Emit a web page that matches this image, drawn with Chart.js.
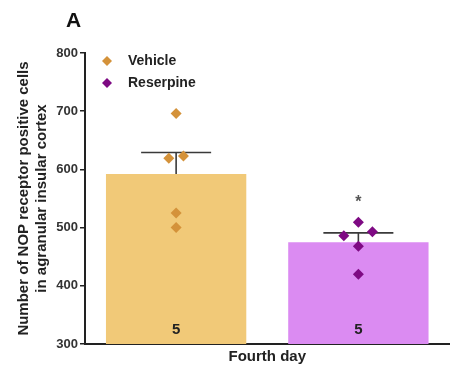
<!DOCTYPE html>
<html lang="en">
<head>
    <meta charset="UTF-8">
    <script src="https://cdn.jsdelivr.net/npm/chart.js"></script>
    <title>NOP receptor positive cells</title>
    <style>
        html, body { margin: 0; padding: 0; background: #fff; }
        #wrap { width: 455px; height: 373px; }
    </style>
</head>
<body>
    <div id="wrap"><canvas id="nopChart" width="455" height="373"></canvas></div>
    <script>
        // groups, means, SEM and individual animals
        var groups = ['Vehicle', 'Reserpine'];
        var means = [592, 475];
        var sems = [37, 16];
        var counts = [5, 5];
        var vehiclePts = [696, 619, 623, 525, 500];
        var reserpinePts = [509, 486, 493, 468, 420];
        var vehicleJitter = [0, -0.04, 0.04, 0, 0];
        var reserpineJitter = [0, -0.08, 0.077, 0, 0];
        var yTicks = [300, 400, 500, 600, 700, 800];
        var signif = ['', '*'];

        var barColors = ['#F1C978', '#DB8BF2'];
        var dotColors = ['#D4923A', '#7E0A83'];

        Chart.defaults.font.family = "'Liberation Sans', Arial, sans-serif";

        function toPoints(vals, centre, jitter){
            var out = [];
            for (var i = 0; i < vals.length; i++) {
                out.push({x: centre + jitter[i], y: vals[i]});
            }
            return out;
        }

        // error bars (upper whisker only), n labels, asterisk, panel letter, legend
        var extras = {
            id: 'extras',
            beforeDatasetDraw: function(chart, args){
                if (args.index !== 1) return;
                var ctx = chart.ctx;
                var x = chart.scales.x, y = chart.scales.y;
                ctx.save();
                ctx.strokeStyle = '#3a3a3a';
                ctx.lineWidth = 1.6;
                for (var i = 0; i < groups.length; i++) {
                    var cx = x.getPixelForValue(i);
                    var top = y.getPixelForValue(means[i] + sems[i]);
                    var base = y.getPixelForValue(means[i]);
                    ctx.beginPath();
                    ctx.moveTo(cx, base);
                    ctx.lineTo(cx, top);
                    ctx.moveTo(cx - 35, top);
                    ctx.lineTo(cx + 35, top);
                    ctx.stroke();
                }
                ctx.restore();
            },
            afterDraw: function(chart){
                var ctx = chart.ctx;
                var x = chart.scales.x, y = chart.scales.y;
                ctx.save();
                ctx.textAlign = 'center';
                ctx.textBaseline = 'middle';
                for (var i = 0; i < groups.length; i++) {
                    var cx = x.getPixelForValue(i);
                    ctx.fillStyle = '#222';
                    ctx.font = "bold 15px 'Liberation Sans', Arial";
                    ctx.fillText(String(counts[i]), cx, chart.chartArea.bottom - 14);
                    if (signif[i]) {
                        ctx.fillStyle = '#555';
                        ctx.font = "bold 16px 'Liberation Sans', Arial";
                        ctx.fillText(signif[i], cx, y.getPixelForValue(means[i] + sems[i]) - 30);
                    }
                }
                // panel letter
                ctx.fillStyle = '#111';
                ctx.textAlign = 'left';
                ctx.font = "bold 21px 'Liberation Sans', Arial";
                ctx.fillText('A', 66, 21);
                // legend
                var lx = 107, ly = [61, 83];
                ctx.font = "bold 14px 'Liberation Sans', Arial";
                for (var k = 0; k < groups.length; k++) {
                    ctx.fillStyle = dotColors[k];
                    ctx.beginPath();
                    ctx.moveTo(lx, ly[k] - 5);
                    ctx.lineTo(lx + 5, ly[k]);
                    ctx.lineTo(lx, ly[k] + 5);
                    ctx.lineTo(lx - 5, ly[k]);
                    ctx.closePath();
                    ctx.fill();
                    ctx.fillStyle = '#222';
                    ctx.fillText(groups[k], 128, ly[k]);
                }
                ctx.restore();
            }
        };

        var config = {
            data: {
                labels: groups,
                datasets: [{
                    type: 'bar',
                    data: means,
                    backgroundColor: barColors,
                    borderWidth: 0,
                    grouped: false,
                    categoryPercentage: 0.77,
                    barPercentage: 1,
                    order: 2
                }, {
                    type: 'scatter',
                    xAxisID: 'xp',
                    data: toPoints(vehiclePts, 0, vehicleJitter).concat(toPoints(reserpinePts, 1, reserpineJitter)),
                    pointStyle: 'rectRot',
                    pointRadius: 5.5,
                    pointBorderWidth: 0,
                    backgroundColor: vehiclePts.map(function(){ return dotColors[0]; }).concat(reserpinePts.map(function(){ return dotColors[1]; })),
                    order: 1
                }]
            },
            options: {
                responsive: false,
                animation: false,
                layout: { padding: { top: 53, right: 4, left: 15, bottom: 7 } },
                plugins: { legend: { display: false }, tooltip: { enabled: false } },
                scales: {
                    x: {
                        type: 'category',
                        offset: true,
                        grid: { display: false },
                        border: { display: true, color: '#222', width: 2 },
                        ticks: { display: false },
                        title: {
                            display: true,
                            text: 'Fourth day',
                            color: '#222',
                            font: { size: 15, weight: 'bold', lineHeight: 1.2 },
                            padding: { top: 4, bottom: 0 }
                        },
                        afterFit: function(s){ s.height = 22; }
                    },
                    xp: {
                        type: 'linear',
                        min: -0.5,
                        max: 1.5,
                        display: false
                    },
                    y: {
                        min: 300,
                        max: 800,
                        afterBuildTicks: function(s){ s.ticks = yTicks.map(function(v){ return {value: v}; }); },
                        grid: { display: true, drawOnChartArea: false, drawTicks: true, tickLength: 5, color: '#222', lineWidth: 1.5 },
                        border: { display: true, color: '#222', width: 2 },
                        ticks: { color: '#333', font: { size: 13, weight: 'bold' }, padding: 2 },
                        title: {
                            display: true,
                            text: ['Number of NOP receptor positive cells', 'in agranular insular cortex'],
                            color: '#222',
                            font: { size: 15, weight: 'bold', lineHeight: 1.2 },
                            padding: { top: 0, bottom: 0 }
                        },
                        afterFit: function(s){ s.width = 70; }
                    }
                }
            },
            plugins: [extras]
        };

        var myChart = new Chart(document.getElementById('nopChart'), config);
    </script>
</body>
</html>
